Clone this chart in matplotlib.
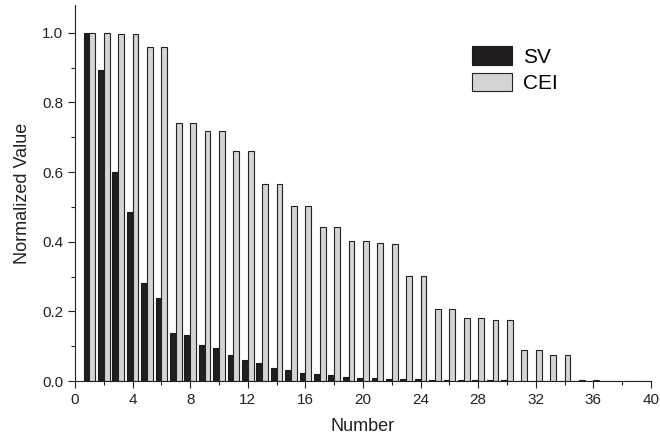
import matplotlib.pyplot as plt
import numpy as np

plt.rcParams['font.family'] = ['Liberation Sans', 'DejaVu Sans']

# values
numbers = np.arange(1, 41)
sv = [1.0, 0.893, 0.600, 0.484, 0.282, 0.238, 0.138, 0.132, 0.103, 0.096,
      0.074, 0.060, 0.051, 0.037, 0.031, 0.023, 0.021, 0.018, 0.011, 0.009,
      0.008, 0.007, 0.006, 0.005, 0.004, 0.003, 0.003, 0.002, 0.002, 0.002,
      0.001, 0.001, 0.001, 0.001, 0.001, 0.001, 0.0, 0.0, 0.0, 0.0]
cei = [1.0, 1.0, 0.997, 0.997, 0.959, 0.959, 0.741, 0.741, 0.719, 0.719,
       0.659, 0.659, 0.567, 0.567, 0.503, 0.503, 0.443, 0.443, 0.401, 0.401,
       0.395, 0.394, 0.303, 0.303, 0.206, 0.206, 0.182, 0.182, 0.174, 0.174,
       0.088, 0.088, 0.075, 0.075, 0.004, 0.003, 0.001, 0.001, 0.0, 0.0]

fig = plt.figure(figsize=(6.6, 4.38), dpi=100)
ax = fig.add_axes([0.1136, 0.130, 0.8728, 0.859])

w = 0.4
ax.bar(numbers - w / 2, sv, width=w, color='#221e1f', edgecolor='#1a1a1a',
       linewidth=0.8, label='SV')
ax.bar(numbers + w / 2, cei, width=w, color='#d4d4d4', edgecolor='#222222',
       linewidth=0.8, label='CEI')

ax.set_xlim(0, 40)
ax.set_ylim(0, 1.08)
ax.set_xticks(np.arange(0, 41, 4))
ax.set_xticks(np.arange(2, 40, 4), minor=True)
ax.set_yticks(np.arange(0, 1.01, 0.2))
ax.set_yticks(np.arange(0.1, 1.0, 0.2), minor=True)
ax.yaxis.set_major_formatter(plt.FormatStrFormatter('%.1f'))

ax.spines['top'].set_visible(False)
ax.spines['right'].set_visible(False)
for s in ('left', 'bottom'):
    ax.spines[s].set_color('#222222')
ax.tick_params(which='major', direction='out', length=5, width=0.8, pad=3.5,
               labelsize=11, color='#222222', labelcolor='#222222')
ax.tick_params(which='minor', direction='out', length=3, width=0.8,
               color='#222222')

ax.set_xlabel('Number', fontsize=13, color='#222222', labelpad=8)
ax.set_ylabel('Normalized Value', fontsize=13, color='#222222', labelpad=8)

ax.legend(loc='upper left', bbox_to_anchor=(0.700, 0.918),
          bbox_transform=fig.transFigure, frameon=False, fontsize=15,
          handlelength=1.9, handleheight=1.0, labelspacing=0.28,
          handletextpad=0.55, borderpad=0)

fig.savefig('out.png', dpi=100)
